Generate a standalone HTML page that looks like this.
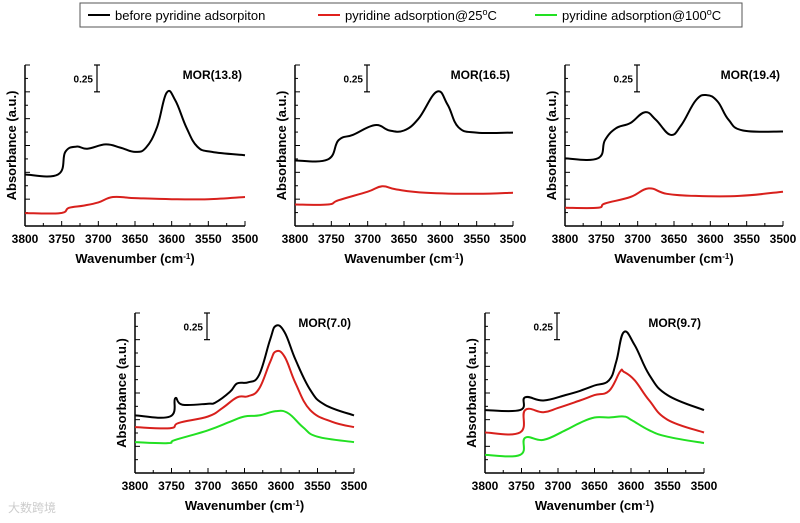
<!DOCTYPE html>
<html><head><meta charset="utf-8"><style>
body{margin:0;background:#fff;}
svg text{font-family:"Liberation Sans",Arial,sans-serif;}
</style></head><body>
<svg id="c" width="800" height="518" xmlns="http://www.w3.org/2000/svg">
<g>
<rect x="80" y="3" width="662" height="24" fill="#fff" stroke="#555" stroke-width="1"/>
<line x1="88" y1="15" x2="110" y2="15" stroke="#000" stroke-width="2"/>
<text x="115" y="20" font-size="13">before pyridine adsorpiton</text>
<line x1="318" y1="15" x2="340" y2="15" stroke="#e0201c" stroke-width="2"/>
<text x="345" y="20" font-size="13">pyridine adsorption@25<tspan baseline-shift="super" font-size="9">o</tspan>C</text>
<line x1="535" y1="15" x2="557" y2="15" stroke="#22e022" stroke-width="2"/>
<text x="562" y="20" font-size="13">pyridine adsorption@100<tspan baseline-shift="super" font-size="9">o</tspan>C</text>
</g>
<text x="8" y="512" font-size="12" fill="#ccc" font-family="Liberation Sans, Noto Sans CJK SC, sans-serif">大数跨境</text>
</svg>
<script>
// Wavenumbers and absorbance (arbitrary offset units, 0.25 = scale bar)
const p1X=[3800,3755,3745,3730,3715,3690,3670,3650,3635,3620,3607,3595,3580,3565,3545,3500];
const p1Black=[0.48,0.48,0.69,0.74,0.72,0.76,0.73,0.69,0.73,0.92,1.24,1.17,0.92,0.74,0.69,0.66];
const p1RedX=[3800,3752,3740,3720,3700,3680,3650,3600,3550,3500];
const p1Red=[0.12,0.12,0.17,0.19,0.22,0.27,0.26,0.25,0.25,0.27];
const p2X=[3800,3755,3740,3720,3690,3670,3650,3630,3605,3590,3575,3550,3500];
const p2Black=[0.61,0.62,0.80,0.85,0.94,0.89,0.89,1.00,1.25,1.13,0.92,0.87,0.87];
const p2RedX=[3800,3755,3740,3700,3680,3660,3620,3550,3500];
const p2Red=[0.20,0.20,0.24,0.32,0.37,0.34,0.31,0.30,0.31];
const p3X=[3800,3755,3745,3730,3710,3690,3675,3655,3640,3620,3605,3590,3575,3555,3500];
const p3Black=[0.63,0.63,0.80,0.91,0.96,1.06,0.99,0.85,0.94,1.17,1.22,1.16,0.99,0.89,0.88];
const p3RedX=[3800,3755,3745,3710,3685,3660,3620,3560,3500];
const p3Red=[0.17,0.17,0.21,0.27,0.35,0.30,0.28,0.28,0.32];
const p4X=[3800,3752,3745,3735,3700,3690,3670,3660,3645,3630,3615,3607,3595,3580,3560,3540,3500];
const p4Black=[0.54,0.53,0.70,0.64,0.65,0.66,0.76,0.84,0.85,0.92,1.25,1.38,1.32,1.06,0.78,0.64,0.54];
const p4RedX=[3800,3752,3740,3700,3680,3660,3645,3630,3615,3607,3595,3580,3560,3530,3500];
const p4Red=[0.43,0.42,0.47,0.53,0.61,0.71,0.72,0.79,1.04,1.14,1.09,0.84,0.59,0.48,0.43];
const p4GreenX=[3800,3755,3745,3700,3670,3650,3630,3607,3590,3570,3550,3500];
const p4Green=[0.29,0.28,0.31,0.40,0.48,0.53,0.54,0.58,0.56,0.43,0.34,0.29];
const p5X=[3800,3752,3745,3720,3690,3670,3650,3630,3620,3610,3595,3575,3550,3500];
const p5Black=[0.59,0.59,0.71,0.68,0.73,0.77,0.82,0.87,1.05,1.32,1.20,0.92,0.73,0.59];
const p5RedX=[3800,3752,3745,3720,3700,3670,3650,3630,3615,3610,3595,3575,3550,3500];
const p5Red=[0.38,0.38,0.59,0.57,0.61,0.68,0.73,0.77,0.95,0.95,0.87,0.68,0.50,0.38];
const p5GreenX=[3800,3752,3745,3720,3690,3670,3650,3630,3610,3600,3575,3550,3500];
const p5Green=[0.17,0.17,0.33,0.31,0.40,0.47,0.52,0.52,0.53,0.50,0.40,0.34,0.28];
const xTicks=[3800,3750,3700,3650,3600,3550,3500];

const NS="http://www.w3.org/2000/svg";
const svg=document.getElementById('c');
function mk(t,a,parent){const e=document.createElementNS(NS,t);for(const k in a)e.setAttribute(k,a[k]);(parent||svg).appendChild(e);return e;}
function smooth(pts){
 let d='M'+pts[0][0].toFixed(1)+','+pts[0][1].toFixed(1);
 for(let i=0;i<pts.length-1;i++){
  const p0=pts[Math.max(i-1,0)],p1=pts[i],p2=pts[i+1],p3=pts[Math.min(i+2,pts.length-1)];
  const t=0.2;
  const c1=[p1[0]+(p2[0]-p0[0])*t,p1[1]+(p2[1]-p0[1])*t];
  const c2=[p2[0]-(p3[0]-p1[0])*t,p2[1]-(p3[1]-p1[1])*t];
  d+='C'+c1[0].toFixed(1)+','+c1[1].toFixed(1)+' '+c2[0].toFixed(1)+','+c2[1].toFixed(1)+' '+p2[0].toFixed(1)+','+p2[1].toFixed(1);
 }
 return d;
}
const panels=[
 {x0:25,x1:245,top:65,bot:226,name:'MOR(13.8)',series:[[p1X,p1Black,'#000'],[p1RedX,p1Red,'#d8201c']]},
 {x0:295,x1:513,top:65,bot:226,name:'MOR(16.5)',series:[[p2X,p2Black,'#000'],[p2RedX,p2Red,'#d8201c']]},
 {x0:565,x1:783,top:65,bot:226,name:'MOR(19.4)',series:[[p3X,p3Black,'#000'],[p3RedX,p3Red,'#d8201c']]},
 {x0:135,x1:354,top:313,bot:473,name:'MOR(7.0)',series:[[p4GreenX,p4Green,'#22e022'],[p4RedX,p4Red,'#d8201c'],[p4X,p4Black,'#000']]},
 {x0:485,x1:704,top:313,bot:473,name:'MOR(9.7)',series:[[p5GreenX,p5Green,'#22e022'],[p5RedX,p5Red,'#d8201c'],[p5X,p5Black,'#000']]}
];
panels.forEach((p,i)=>{
 const g=mk('g',{});
 
 
 const sx=v=>p.x0+(3800-v)/300*(p.x1-p.x0);
 const sy=v=>p.bot-v/1.5*(p.bot-p.top);
 const ya=mk('line',{x1:p.x0,y1:p.top,x2:p.x0,y2:p.bot,stroke:'#000','stroke-width':1.5},g);
 
 
 const xa=mk('line',{x1:p.x0,y1:p.bot,x2:p.x1,y2:p.bot,stroke:'#000','stroke-width':1.5},g);
 
 
 for(let k=0;k<=12;k++){const y=p.bot-k*(p.bot-p.top)/12;mk('line',{x1:p.x0,y1:y,x2:p.x0+(k%2==0?5:3),y2:y,stroke:'#000','stroke-width':1},g);}
 for(let v=3800;v>=3500;v-=25){const x=sx(v);mk('line',{x1:x,y1:p.bot,x2:x,y2:p.bot-(v%50==0?5:3),stroke:'#000','stroke-width':1},g);}
 xTicks.forEach(v=>{const t=mk('text',{x:sx(v),y:p.bot+17,'font-size':12,'font-weight':'bold','text-anchor':'middle'},g);t.textContent=v;
  
  });
 const xt=mk('text',{x:(p.x0+p.x1)/2,y:p.bot+37,'font-size':13,'font-weight':'bold','text-anchor':'middle'},g);
 xt.innerHTML='Wavenumber (cm<tspan baseline-shift="super" font-size="8">-1</tspan>)';
 
 
 const cy=(p.top+p.bot)/2;
 const yt=mk('text',{x:p.x0-9,y:cy,'font-size':13,'font-weight':'bold','text-anchor':'middle',transform:`rotate(-90 ${p.x0-9} ${cy})`},g);
 yt.textContent='Absorbance (a.u.)';
 
 
 const bx=p.x0+72,b0=sy(1.5),b1=sy(1.25);
 mk('line',{x1:bx,y1:b0,x2:bx,y2:b1,stroke:'#000','stroke-width':1.2},g);
 mk('line',{x1:bx-3,y1:b0,x2:bx+3,y2:b0,stroke:'#000','stroke-width':1.2},g);
 mk('line',{x1:bx-3,y1:b1,x2:bx+3,y2:b1,stroke:'#000','stroke-width':1.2},g);
 const sb=mk('text',{x:bx-4,y:(b0+b1)/2+4,'font-size':10,'font-weight':'bold','text-anchor':'end'},g);sb.textContent='0.25';
 
 
 const nm=mk('text',{x:p.x1-3,y:p.top+14,'font-size':12,'font-weight':'bold','text-anchor':'end'},g);nm.textContent=p.name;
 
 
 p.series.forEach(s=>{
  const pts=s[0].map((v,j)=>[sx(v),sy(s[1][j])]);
  const path=mk('path',{d:smooth(pts),fill:'none',stroke:s[2],'stroke-width':2,'stroke-linejoin':'round'},g);
  
  
 });
});
</script>
</body></html>
